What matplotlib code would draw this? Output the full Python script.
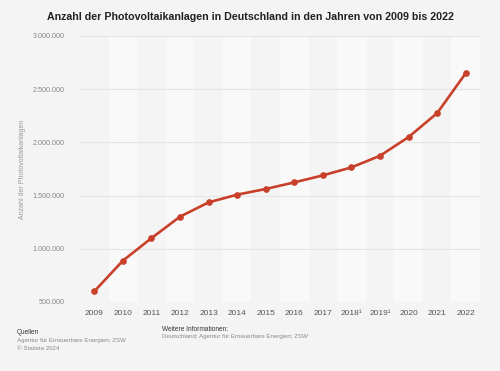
import numpy as np
import matplotlib
matplotlib.use('Agg')
import matplotlib.pyplot as plt
from matplotlib.ticker import FuncFormatter

plt.rcParams['font.family'] = ['Liberation Sans', 'DejaVu Sans']

years = [2009, 2010, 2011, 2012, 2013, 2014, 2015, 2016, 2017, 2018, 2019, 2020, 2021, 2022]
year_labels = ['2009', '2010', '2011', '2012', '2013', '2014', '2015', '2016', '2017',
               '2018¹', '2019¹', '2020', '2021', '2022']
anlagen = [600000, 888000, 1100000, 1302000, 1436000, 1509000, 1562000, 1624000,
           1690000, 1765000, 1874000, 2050000, 2275000, 2650000]
y_ticks = [500000, 1000000, 1500000, 2000000, 2500000, 3000000]

bg = '#f4f4f4'
red = '#c8402a'

fig = plt.figure(figsize=(5, 3.71), dpi=100, facecolor=bg)
ax = fig.add_axes([0.16, 0.186, 0.80, 0.717])
ax.set_facecolor(bg)

x = np.arange(len(years))
# alternating column bands
for i in x:
    if i % 2 == 1:
        ax.axvspan(i - 0.5, i + 0.5, color='#f9f9f9', zorder=0, lw=0)

for t in y_ticks:
    ax.axhline(t, color='#e4e4e4', lw=0.8, zorder=1)

ax.plot(x, anlagen, color=red, lw=1.9, marker='o', markersize=3.8, zorder=3)

ax.set_xlim(-0.5, len(years) - 0.5)
ax.set_ylim(500000, 3000000)
ax.set_yticks(y_ticks)
ax.yaxis.set_major_formatter(FuncFormatter(lambda v, p: '{:,.0f}'.format(v).replace(',', '.')))
ax.set_xticks(x)
ax.set_xticklabels(year_labels)
ax.tick_params(axis='y', length=0, labelsize=5.2, labelcolor='#888888', pad=11)
ax.tick_params(axis='x', length=0, labelsize=6, labelcolor='#555555', pad=6)
for s in ax.spines.values():
    s.set_visible(False)

ax.set_ylabel('Anzahl der Photovoltaikanlagen', fontsize=5, color='#999999', labelpad=5)

fig.text(0.5, 0.953, 'Anzahl der Photovoltaikanlagen in Deutschland in den Jahren von 2009 bis 2022',
         ha='center', va='center', fontsize=7.7, fontweight='bold', color='#222222')

fig.text(0.034, 0.105, 'Quellen', fontsize=4.7, color='#333333', va='center')
fig.text(0.034, 0.082, 'Agentur für Erneuerbare Energien; ZSW', fontsize=4.4, color='#888888', va='center')
fig.text(0.034, 0.061, '© Statista 2024', fontsize=4.4, color='#888888', va='center')
fig.text(0.325, 0.113, 'Weitere Informationen:', fontsize=4.7, color='#333333', va='center')
fig.text(0.325, 0.092, 'Deutschland; Agentur für Erneuerbare Energien; ZSW', fontsize=4.4, color='#888888', va='center')

fig.savefig('out.png', dpi=100, facecolor=bg)
